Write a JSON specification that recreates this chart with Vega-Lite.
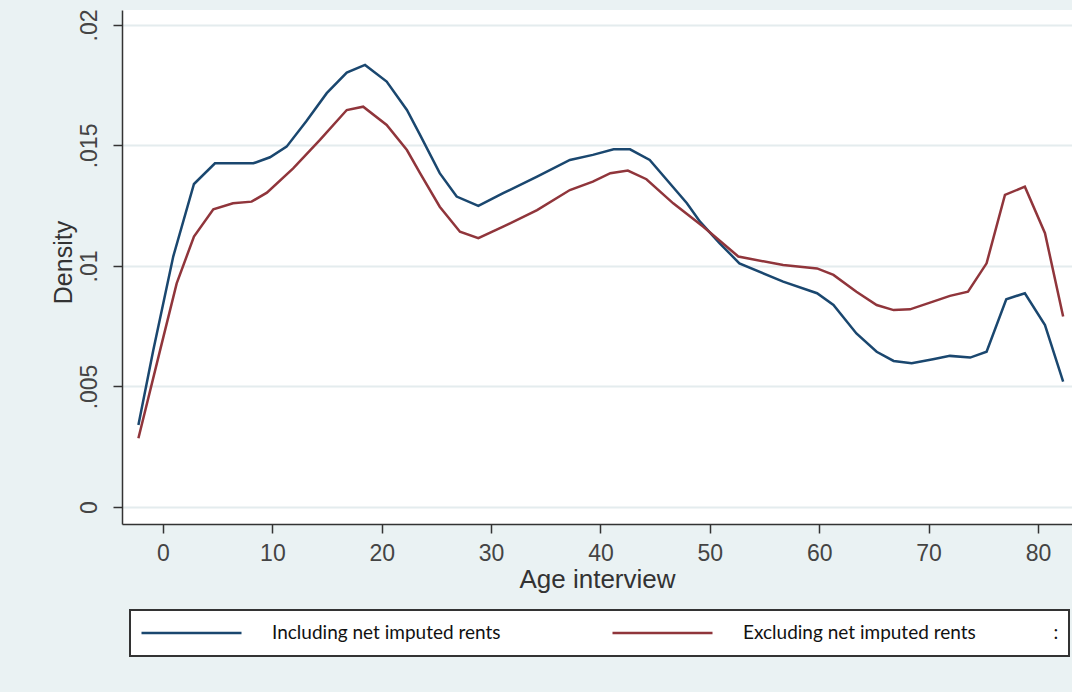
{
  "$schema": "https://vega.github.io/schema/vega-lite/v6.json",
  "width": 950,
  "height": 514,
  "autosize": "none",
  "padding": {"left": 122, "top": 10, "right": 0, "bottom": 168},
  "background": "#eaf2f3",
  "config": {
    "view": {"fill": "white", "stroke": null},
    "font": "Liberation Sans",
    "legend": {"strokeWidth": 2}
  },
  "data": {
    "values": [
      {"series": "Including net imputed rents", "age": -2.25, "density": 0.0034},
      {"series": "Including net imputed rents", "age": -0.89, "density": 0.0065},
      {"series": "Including net imputed rents", "age": 0.94, "density": 0.0104},
      {"series": "Including net imputed rents", "age": 2.83, "density": 0.0134},
      {"series": "Including net imputed rents", "age": 4.75, "density": 0.01426},
      {"series": "Including net imputed rents", "age": 8.26, "density": 0.01426},
      {"series": "Including net imputed rents", "age": 9.78, "density": 0.01451},
      {"series": "Including net imputed rents", "age": 11.3, "density": 0.01495},
      {"series": "Including net imputed rents", "age": 13.1, "density": 0.016},
      {"series": "Including net imputed rents", "age": 14.97, "density": 0.01717},
      {"series": "Including net imputed rents", "age": 16.8, "density": 0.01802},
      {"series": "Including net imputed rents", "age": 18.47, "density": 0.01834},
      {"series": "Including net imputed rents", "age": 20.45, "density": 0.01765},
      {"series": "Including net imputed rents", "age": 22.3, "density": 0.01647},
      {"series": "Including net imputed rents", "age": 23.5, "density": 0.01544},
      {"series": "Including net imputed rents", "age": 25.3, "density": 0.01385},
      {"series": "Including net imputed rents", "age": 26.85, "density": 0.01288},
      {"series": "Including net imputed rents", "age": 28.83, "density": 0.01249},
      {"series": "Including net imputed rents", "age": 31.1, "density": 0.01302},
      {"series": "Including net imputed rents", "age": 34.2, "density": 0.01371},
      {"series": "Including net imputed rents", "age": 37.2, "density": 0.0144},
      {"series": "Including net imputed rents", "age": 39.3, "density": 0.01461},
      {"series": "Including net imputed rents", "age": 41.2, "density": 0.01484},
      {"series": "Including net imputed rents", "age": 42.7, "density": 0.01484},
      {"series": "Including net imputed rents", "age": 44.5, "density": 0.0144},
      {"series": "Including net imputed rents", "age": 47.9, "density": 0.0126},
      {"series": "Including net imputed rents", "age": 49.1, "density": 0.01184},
      {"series": "Including net imputed rents", "age": 50.9, "density": 0.01094},
      {"series": "Including net imputed rents", "age": 52.7, "density": 0.01011},
      {"series": "Including net imputed rents", "age": 56.7, "density": 0.00935},
      {"series": "Including net imputed rents", "age": 59.8, "density": 0.00887},
      {"series": "Including net imputed rents", "age": 61.3, "density": 0.00838},
      {"series": "Including net imputed rents", "age": 63.4, "density": 0.0072},
      {"series": "Including net imputed rents", "age": 65.25, "density": 0.00644},
      {"series": "Including net imputed rents", "age": 66.8, "density": 0.00606},
      {"series": "Including net imputed rents", "age": 68.45, "density": 0.00596},
      {"series": "Including net imputed rents", "age": 70.4, "density": 0.00613},
      {"series": "Including net imputed rents", "age": 71.95, "density": 0.00627},
      {"series": "Including net imputed rents", "age": 73.8, "density": 0.0062},
      {"series": "Including net imputed rents", "age": 75.3, "density": 0.00644},
      {"series": "Including net imputed rents", "age": 77.1, "density": 0.00862},
      {"series": "Including net imputed rents", "age": 78.8, "density": 0.00887},
      {"series": "Including net imputed rents", "age": 80.64, "density": 0.00755},
      {"series": "Including net imputed rents", "age": 82.3, "density": 0.0052},
      {"series": "Excluding net imputed rents", "age": -2.25, "density": 0.00285},
      {"series": "Excluding net imputed rents", "age": -0.27, "density": 0.0065},
      {"series": "Excluding net imputed rents", "age": 1.25, "density": 0.00928},
      {"series": "Excluding net imputed rents", "age": 2.83, "density": 0.01122},
      {"series": "Excluding net imputed rents", "age": 4.6, "density": 0.01235},
      {"series": "Excluding net imputed rents", "age": 6.4, "density": 0.0126},
      {"series": "Excluding net imputed rents", "age": 8.1, "density": 0.01267},
      {"series": "Excluding net imputed rents", "age": 9.5, "density": 0.01304},
      {"series": "Excluding net imputed rents", "age": 11.9, "density": 0.01405},
      {"series": "Excluding net imputed rents", "age": 14.35, "density": 0.01523},
      {"series": "Excluding net imputed rents", "age": 16.8, "density": 0.01647},
      {"series": "Excluding net imputed rents", "age": 18.3, "density": 0.01661},
      {"series": "Excluding net imputed rents", "age": 20.45, "density": 0.01585},
      {"series": "Excluding net imputed rents", "age": 22.3, "density": 0.01481},
      {"series": "Excluding net imputed rents", "age": 23.5, "density": 0.01385},
      {"series": "Excluding net imputed rents", "age": 25.3, "density": 0.01246},
      {"series": "Excluding net imputed rents", "age": 27.15, "density": 0.01142},
      {"series": "Excluding net imputed rents", "age": 28.83, "density": 0.01115},
      {"series": "Excluding net imputed rents", "age": 31.1, "density": 0.01163},
      {"series": "Excluding net imputed rents", "age": 34.2, "density": 0.01232},
      {"series": "Excluding net imputed rents", "age": 37.2, "density": 0.01315},
      {"series": "Excluding net imputed rents", "age": 39.3, "density": 0.0135},
      {"series": "Excluding net imputed rents", "age": 40.9, "density": 0.01385},
      {"series": "Excluding net imputed rents", "age": 42.5, "density": 0.01396},
      {"series": "Excluding net imputed rents", "age": 44.2, "density": 0.0136},
      {"series": "Excluding net imputed rents", "age": 46.65, "density": 0.0126},
      {"series": "Excluding net imputed rents", "age": 49.4, "density": 0.01163},
      {"series": "Excluding net imputed rents", "age": 52.6, "density": 0.01039},
      {"series": "Excluding net imputed rents", "age": 56.7, "density": 0.01004},
      {"series": "Excluding net imputed rents", "age": 59.8, "density": 0.0099},
      {"series": "Excluding net imputed rents", "age": 61.3, "density": 0.00963},
      {"series": "Excluding net imputed rents", "age": 63.4, "density": 0.00893},
      {"series": "Excluding net imputed rents", "age": 65.25, "density": 0.00838},
      {"series": "Excluding net imputed rents", "age": 66.8, "density": 0.00817},
      {"series": "Excluding net imputed rents", "age": 68.3, "density": 0.0082},
      {"series": "Excluding net imputed rents", "age": 70.4, "density": 0.00852},
      {"series": "Excluding net imputed rents", "age": 71.95, "density": 0.00876},
      {"series": "Excluding net imputed rents", "age": 73.6, "density": 0.00893},
      {"series": "Excluding net imputed rents", "age": 75.3, "density": 0.01011},
      {"series": "Excluding net imputed rents", "age": 76.98, "density": 0.01295},
      {"series": "Excluding net imputed rents", "age": 78.8, "density": 0.01329},
      {"series": "Excluding net imputed rents", "age": 80.64, "density": 0.01136},
      {"series": "Excluding net imputed rents", "age": 82.3, "density": 0.0079}
    ]
  },
  "mark": {"type": "line", "strokeWidth": 2.5, "clip": true},
  "encoding": {
    "x": {
      "field": "age",
      "type": "quantitative",
      "scale": {"domain": [-3.75, 83.11], "nice": false, "zero": false},
      "axis": {
        "values": [0, 10, 20, 30, 40, 50, 60, 70, 80],
        "grid": false,
        "domainColor": "#333333",
        "domainWidth": 1.5,
        "tickColor": "#333333",
        "tickWidth": 1.5,
        "tickSize": 9,
        "labelFontSize": 23,
        "labelColor": "#444444",
        "labelPadding": 9,
        "title": "Age interview",
        "titleFontSize": 26,
        "titleFontWeight": "normal",
        "titleColor": "#333333",
        "titlePadding": 1
      }
    },
    "y": {
      "field": "density",
      "type": "quantitative",
      "scale": {"domain": [-0.000705, 0.02062], "nice": false, "zero": false},
      "axis": {
        "values": [0, 0.005, 0.01, 0.015, 0.02],
        "labelExpr": "datum.value == 0 ? '0' : replace(format(datum.value, '.3~f'), '0.', '.')",
        "grid": true,
        "gridColor": "#e4ecee",
        "gridWidth": 2,
        "domainColor": "#333333",
        "domainWidth": 1.5,
        "tickColor": "#333333",
        "tickWidth": 1.5,
        "tickSize": 9,
        "labelAngle": -90,
        "labelAlign": "center",
        "labelBaseline": "bottom",
        "labelFontSize": 23,
        "labelColor": "#444444",
        "labelPadding": 12,
        "title": "Density",
        "titleFontSize": 25,
        "titleFontWeight": "normal",
        "titleColor": "#333333",
        "titlePadding": 2,
        "titleY": 252
      }
    },
    "color": {
      "field": "series",
      "type": "nominal",
      "scale": {
        "domain": ["Including net imputed rents", "Excluding net imputed rents"],
        "range": ["#1a476f", "#90353b"]
      },
      "legend": {
        "orient": "none",
        "legendX": 8,
        "legendY": 600,
        "direction": "horizontal",
        "title": null,
        "symbolType": "stroke",
        "symbolSize": 10000,
        "symbolStrokeWidth": 2.5,
        "clipHeight": 26,
        "padding": 10,
        "strokeColor": "#333333",
        "fillColor": "white",
        "labelFont": "Lato",
        "labelFontSize": 19,
        "labelColor": "#111111",
        "labelOffset": 29,
        "labelLimit": 800,
        "columnPadding": 110,
        "labelExpr": "datum.label == 'Excluding net imputed rents' ? datum.label + '\u00a0\u00a0\u00a0\u00a0\u00a0\u00a0\u00a0\u00a0\u00a0\u00a0\u00a0\u00a0\u00a0\u00a0\u00a0\u00a0:' : datum.label"
      }
    }
  }
}
